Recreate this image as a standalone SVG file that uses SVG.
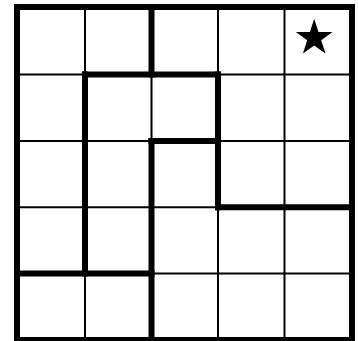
<svg xmlns="http://www.w3.org/2000/svg" width="358" height="341" viewBox="0 0 358 341">
  <style>
    .thin { stroke: #000; stroke-width: 2; fill: none; }
    .thick { stroke: #000; stroke-width: 6; fill: none; stroke-linecap: square; }
  </style>
  <rect x="0" y="0" width="358" height="341" fill="#fff"/>
  <g id="grid-thin">
    <line class="thin" x1="85" y1="7" x2="85" y2="340"/>
    <line class="thin" x1="151.5" y1="7" x2="151.5" y2="340"/>
    <line class="thin" x1="218" y1="7" x2="218" y2="340"/>
    <line class="thin" x1="284.5" y1="7" x2="284.5" y2="340"/>
    <line class="thin" x1="17" y1="74.5" x2="352" y2="74.5"/>
    <line class="thin" x1="17" y1="141" x2="352" y2="141"/>
    <line class="thin" x1="17" y1="207.3" x2="352" y2="207.3"/>
    <line class="thin" x1="17" y1="273.5" x2="352" y2="273.5"/>
  </g>
  <g id="regions">
    <rect class="thick" x="17" y="7" width="335" height="333" stroke-linecap="butt"/>
    <line class="thick" x1="151.5" y1="7" x2="151.5" y2="74.5"/>
    <line class="thick" x1="85" y1="74.5" x2="218" y2="74.5"/>
    <line class="thick" x1="85" y1="74.5" x2="85" y2="273.5"/>
    <line class="thick" x1="17" y1="273.5" x2="151.5" y2="273.5"/>
    <line class="thick" x1="151.5" y1="141" x2="151.5" y2="340"/>
    <line class="thick" x1="151.5" y1="141" x2="218" y2="141"/>
    <line class="thick" x1="218" y1="74.5" x2="218" y2="207.3"/>
    <line class="thick" x1="218" y1="207.3" x2="352" y2="207.3"/>
  </g>
  <g id="star">
    <polygon fill="#000" points="314.2,18.7 318.5,32 332.6,32 321.2,40.3 325.5,53.6 314.2,45.4 302.9,53.6 307.2,40.3 295.8,32 309.9,32"/>
  </g>
</svg>
